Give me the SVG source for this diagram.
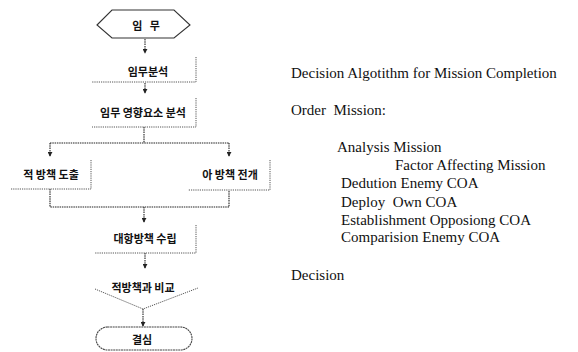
<svg xmlns="http://www.w3.org/2000/svg" width="578" height="352" viewBox="0 0 578 352">
<style>
.ko{font-family:"Noto Sans CJK KR","Noto Sans",sans-serif;font-size:11px;font-weight:bold;fill:#111;text-anchor:middle;dominant-baseline:central}
.en{font-family:"Liberation Serif","Times New Roman",serif;font-size:15px;fill:#111}
.edge{fill:none;stroke:#555;stroke-width:1;stroke-dasharray:1.2 1}
.con{fill:none;stroke:#222;stroke-width:1.1;stroke-dasharray:1.5 0.8}
</style>
<defs>
<marker id="ah" viewBox="0 0 6 6" refX="5" refY="3" markerWidth="5" markerHeight="5" orient="auto" markerUnits="userSpaceOnUse">
<path d="M0,0 L6,3 L0,6 Z" fill="#222"/>
</marker>
</defs>
<rect width="578" height="352" fill="#fff"/>
<g id="connectors">
<path class="con" d="M145,39 V53" marker-end="url(#ah)"/>
<path class="con" d="M145,83 V93" marker-end="url(#ah)"/>
<path class="con" d="M144,127 V143 M50,143 H229"/>
<path class="con" d="M50,143 V156" marker-end="url(#ah)"/>
<path class="con" d="M229,143 V156" marker-end="url(#ah)"/>
<path class="con" d="M50,189 V207 H229 V190"/>
<path class="con" d="M144,207 V222" marker-end="url(#ah)"/>
<path class="con" d="M145,253 V268" marker-end="url(#ah)"/>
<path class="con" d="M143,309 V326" marker-end="url(#ah)"/>
</g>
<g id="n1">
<polygon points="97,25 112,10 174,10 190,25 174,38 112,38" fill="none" stroke="#333" stroke-width="1.1"/>
<text class="ko" x="146" y="25" xml:space="preserve">임   무</text>
</g>
<g id="n2">
<path class="edge" d="M196,57 V82 H92"/>
<text class="ko" x="148" y="71">임무분석</text>
</g>
<g id="n3">
<path class="edge" d="M196,98 V127 H92"/>
<text class="ko" x="143" y="112">임무 영향요소 분석</text>
</g>
<g id="n4">
<path class="edge" d="M91,160 V189 H10"/>
<text class="ko" x="51" y="174">적 방책 도출</text>
</g>
<g id="n5">
<path class="edge" d="M270,160 V190 H188"/>
<text class="ko" x="230" y="174">아 방책 전개</text>
</g>
<g id="n6">
<path class="edge" d="M196,225 V253 H95"/>
<text class="ko" x="145" y="238">대항방책 수립</text>
</g>
<g id="n7">
<path class="edge" d="M95,289 L143,309 L198,288"/>
<text class="ko" x="143" y="287">적방책과 비교</text>
</g>
<g id="n8">
<rect x="96" y="327" width="96" height="23" rx="11.5" fill="none" stroke="#444" stroke-width="1.1" stroke-dasharray="2 0.6"/>
<text class="ko" x="142" y="339">결심</text>
</g>
<g id="legend">
<text class="en" x="291" y="78">Decision Algotithm for Mission Completion</text>
<text class="en" x="291" y="115" xml:space="preserve">Order  Mission:</text>
<text class="en" x="337" y="152">Analysis Mission</text>
<text class="en" x="395" y="170">Factor Affecting Mission</text>
<text class="en" x="341" y="188">Dedution Enemy COA</text>
<text class="en" x="341" y="207" xml:space="preserve">Deploy  Own COA</text>
<text class="en" x="341" y="225">Establishment Opposiong COA</text>
<text class="en" x="341" y="242">Comparision Enemy COA</text>
<text class="en" x="291" y="280">Decision</text>
</g>
</svg>
